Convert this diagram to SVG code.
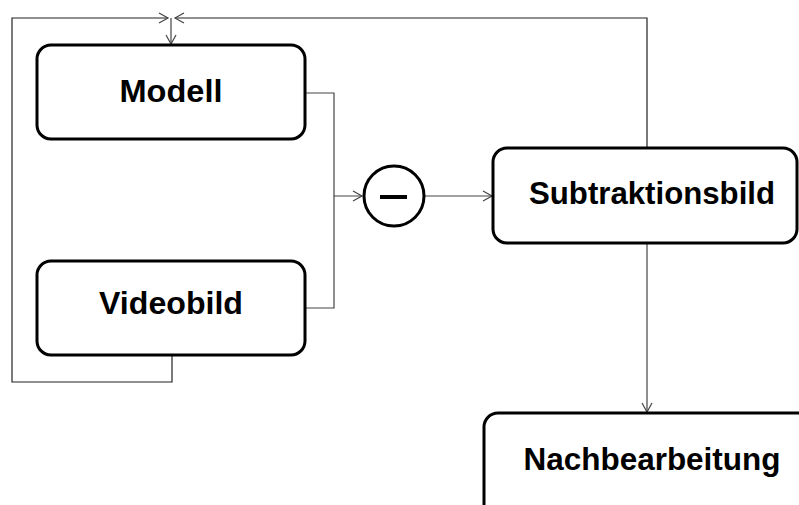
<svg xmlns="http://www.w3.org/2000/svg" width="799" height="505" viewBox="0 0 799 505">
<defs>
<marker id="arr" markerWidth="12" markerHeight="12" refX="10" refY="6" orient="auto" markerUnits="userSpaceOnUse">
<path d="M1,1 L10,6 L1,11" fill="none" stroke="#444" stroke-width="1.2"/>
</marker>
</defs>
<style>
.box{fill:#fff;stroke:#000;stroke-width:3}
.lbl{font-family:"Liberation Sans",Arial,sans-serif;font-weight:bold;font-size:32px;fill:#000;text-anchor:middle}
.con{fill:none;stroke:#444;stroke-width:1.2}
.top{fill:none;stroke:#222;stroke-width:1.2}
</style>
<rect width="799" height="505" fill="#fff"/>
<g id="connectors">
<polyline class="con" points="305,93 334,93 334,196 362,196" marker-end="url(#arr)"/>
<polyline class="con" points="305,308 334,308 334,196"/>
<line class="con" x1="425" y1="196" x2="492" y2="196" marker-end="url(#arr)"/>
<polyline class="top" points="647,148 647,18 175,18" marker-end="url(#arr)"/>
<polyline class="top" points="172,355 172,382 12,382 12,18 168,18" marker-end="url(#arr)"/>
<line class="con" x1="171" y1="18" x2="171" y2="44" marker-end="url(#arr)"/>
<line class="con" x1="647" y1="243" x2="647" y2="412" marker-end="url(#arr)"/>
</g>
<g id="modell">
<rect class="box" x="37" y="45" width="268" height="94" rx="14"/>
<text class="lbl" x="171" y="102" textLength="103" lengthAdjust="spacingAndGlyphs">Modell</text>
</g>
<g id="videobild">
<rect class="box" x="37" y="261" width="268" height="94" rx="14"/>
<text class="lbl" x="171" y="314" textLength="144" lengthAdjust="spacingAndGlyphs">Videobild</text>
</g>
<g id="minus">
<circle cx="394" cy="196" r="30" fill="#fff" stroke="#000" stroke-width="3"/>
<line x1="380" y1="197" x2="407" y2="197" stroke="#000" stroke-width="4"/>
</g>
<g id="subtraktionsbild">
<rect class="box" x="493" y="148" width="304" height="95" rx="14"/>
<text class="lbl" x="652" y="204" textLength="246" lengthAdjust="spacingAndGlyphs">Subtraktionsbild</text>
</g>
<g id="nachbearbeitung">
<rect class="box" x="484" y="413" width="330" height="110" rx="14"/>
<text class="lbl" x="652" y="470" textLength="257" lengthAdjust="spacingAndGlyphs">Nachbearbeitung</text>
</g>
</svg>
